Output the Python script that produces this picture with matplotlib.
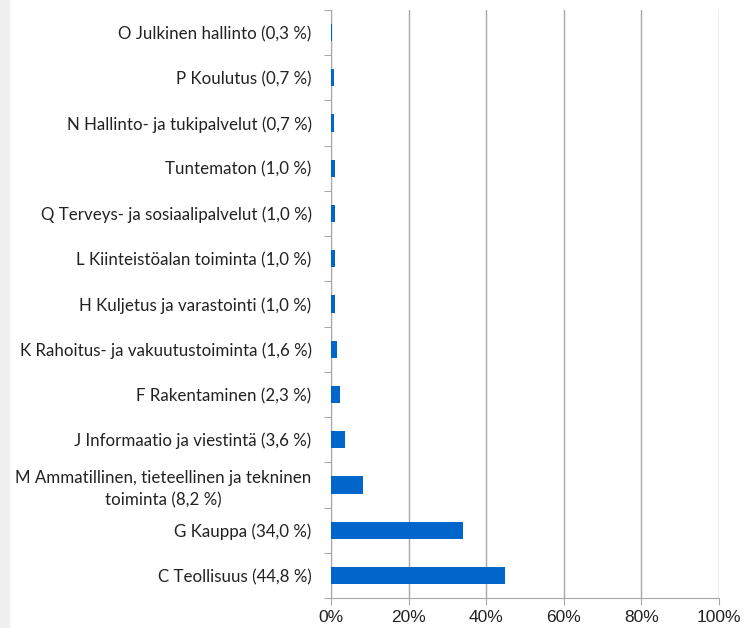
import matplotlib
matplotlib.use("Agg")
import matplotlib.pyplot as plt
import matplotlib.patches as mpatches
import numpy as np

categories = [
    "C Teollisuus (44,8 %)",
    "G Kauppa (34,0 %)",
    "M Ammatillinen, tieteellinen ja tekninen\ntoiminta (8,2 %)",
    "J Informaatio ja viestintä (3,6 %)",
    "F Rakentaminen (2,3 %)",
    "K Rahoitus- ja vakuutustoiminta (1,6 %)",
    "H Kuljetus ja varastointi (1,0 %)",
    "L Kiinteistöalan toiminta (1,0 %)",
    "Q Terveys- ja sosiaalipalvelut (1,0 %)",
    "Tuntematon (1,0 %)",
    "N Hallinto- ja tukipalvelut (0,7 %)",
    "P Koulutus (0,7 %)",
    "O Julkinen hallinto (0,3 %)",
]
values = [44.8, 34.0, 8.2, 3.6, 2.3, 1.6, 1.0, 1.0, 1.0, 1.0, 0.7, 0.7, 0.3]
xticks = [0, 20, 40, 60, 80, 100]
xticklabels = ["0%", "20%", "40%", "60%", "80%", "100%"]

fig = plt.figure(figsize=(7.46, 6.28), dpi=100)
fig.patches.append(mpatches.Rectangle((0, 0), 9/746, 1, transform=fig.transFigure,
                                      color="#f0f0f0", zorder=0))
ax = fig.add_axes([331/746, 1-598/628, 388/746, 588/628])
y = np.arange(len(categories))
ax.barh(y, values, height=0.38, color="#0066cc", zorder=3)
ax.set_xlim(0, 100)
ax.set_ylim(-0.5, len(categories)-0.5)
ax.set_xticks(xticks)
ax.set_xticklabels(xticklabels, fontsize=12.5, family="Liberation Sans", color="#222222")
ax.grid(axis="x", color="#a8a8a8", linewidth=1, zorder=0)
ax.set_yticks(np.arange(-0.5, len(categories), 1))
ax.set_yticklabels([])
ax.set_yticks(y, minor=True)
ax.set_yticklabels(categories, minor=True, fontsize=12.2, family="Lato",
                   color="#222222", multialignment="center", linespacing=1.45)
ax.tick_params(axis="y", which="minor", length=0, pad=14)
ax.tick_params(axis="y", which="major", length=5, color="#a8a8a8")
ax.tick_params(axis="x", length=5, color="#a8a8a8", pad=4)
for s in ["top", "right"]:
    ax.spines[s].set_visible(False)
for s in ["left", "bottom"]:
    ax.spines[s].set_color("#a8a8a8")
fig.savefig("out.png", dpi=100)
